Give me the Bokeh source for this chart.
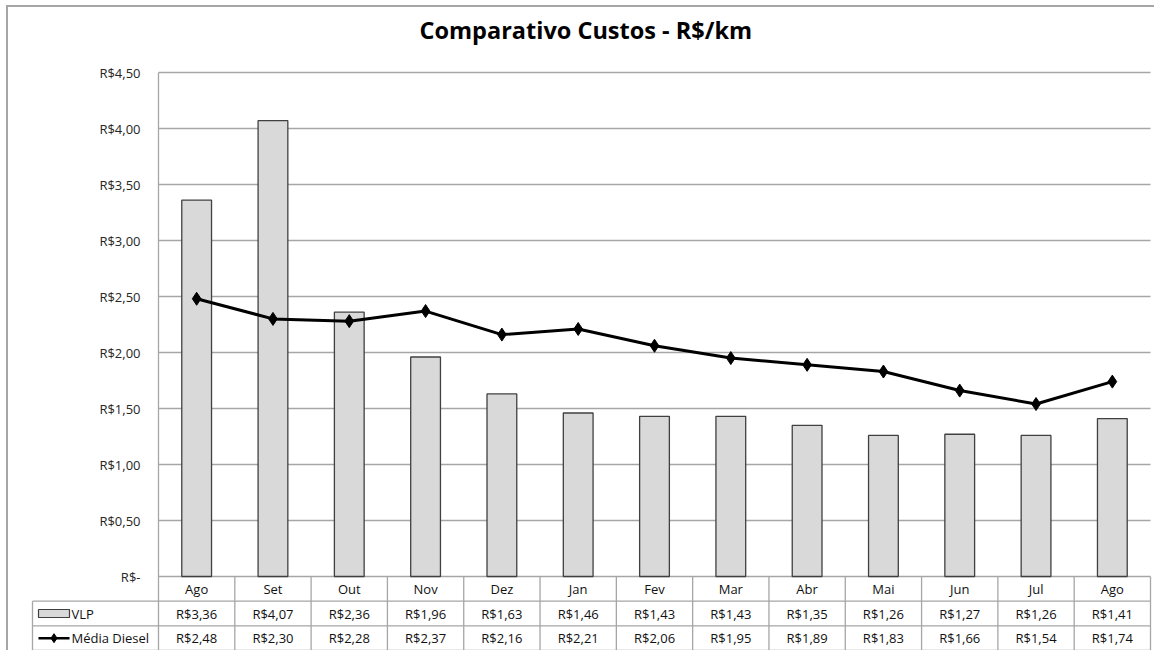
from bokeh.plotting import figure
from bokeh.models import FixedTicker, Range1d, Title
from bokeh.core.properties import value
from bokeh.embed import file_html
from bokeh.resources import INLINE

# ---------------- data ----------------
months = ["Ago", "Set", "Out", "Nov", "Dez", "Jan", "Fev", "Mar", "Abr", "Mai", "Jun", "Jul", "Ago"]
vlp = [3.36, 4.07, 2.36, 1.96, 1.63, 1.46, 1.43, 1.43, 1.35, 1.26, 1.27, 1.26, 1.41]
diesel = [2.48, 2.30, 2.28, 2.37, 2.16, 2.21, 2.06, 1.95, 1.89, 1.83, 1.66, 1.54, 1.74]
series_names = ["VLP", "Média Diesel"]
y_ticks = [0.0, 0.5, 1.0, 1.5, 2.0, 2.5, 3.0, 3.5, 4.0, 4.5]
title_text = "Comparativo Custos - R$/km"


def brl(v):
    return "R$-" if v == 0 else "R$" + f"{v:.2f}".replace(".", ",")


# ---------------- layout ----------------
PX_X = 992 / 13.0   # pixels per category
PX_Y = 112.0        # pixels per R$1
W, H = 1148, 645
n = len(months)
x_start = -128 / PX_X
x_end = n + 6 / PX_X
y_start = -76 / PX_Y
y_end = 4.5 + 2 / PX_Y
row_h = (74 / 3) / PX_Y
table_left = -126 / PX_X

FONT = "Open Sans"
TXT = "#111111"
GRID = "#a6a6a6"

p = figure(width=W, height=H, x_range=Range1d(x_start, x_end), y_range=Range1d(y_start, y_end),
           x_axis_location=None, y_axis_location="left", toolbar_location=None,
           output_backend="svg", min_border_left=22, min_border_right=0,
           min_border_top=63, min_border_bottom=0, title=None)
p.styles = {"margin-left": "6px", "margin-top": "5px",
            "border-left": "2px solid #a6a6a6", "border-top": "2px solid #a6a6a6"}
p.outline_line_color = None
p.background_fill_color = "white"
p.border_fill_color = "white"
p.xgrid.visible = False
p.ygrid.visible = False

title = Title(text=title_text, text_font=FONT, text_font_size="23.5px", text_font_style="bold",
              text_color="black", align="left", offset=389, standoff=0,
              padding=dict(top=0, right=0, bottom=25, left=0))
p.add_layout(title, "above")

ax = p.yaxis[0]
ax.ticker = FixedTicker(ticks=y_ticks)
ax.major_label_overrides = {t: brl(t) for t in y_ticks}
ax.axis_line_color = None
ax.major_tick_line_color = None
ax.minor_tick_line_color = None
ax.major_tick_out = 0
ax.major_tick_in = 0
ax.major_label_standoff = -110
ax.major_label_text_font = FONT
ax.major_label_text_font_size = "13px"
ax.major_label_text_color = "#262626"

centers = [i + 0.5 for i in range(n)]

# gridlines (plot area)
p.segment(x0=[0] * len(y_ticks), x1=[n] * len(y_ticks), y0=y_ticks, y1=y_ticks,
          line_color=GRID, line_width=1.3)

# bars
p.vbar(x=centers, top=vlp, bottom=0, width=0.39, fill_color="#d9d9d9",
       line_color="#404040", line_width=1.3)

# line
p.line(x=centers, y=diesel, line_color="black", line_width=3)
p.scatter(x=centers, y=diesel, marker="diamond", size=13, fill_color="black", line_color="black")

# ---------------- data table ----------------
rows_y = [-row_h * (k + 1) for k in range(3)]
p.segment(x0=[table_left] * 3, x1=[n] * 3, y0=rows_y, y1=rows_y,
          line_color=GRID, line_width=1.3)
p.segment(x0=[0], x1=[0], y0=[rows_y[-1]], y1=[4.5], line_color=GRID, line_width=1.3)
p.segment(x0=list(range(1, n + 1)), x1=list(range(1, n + 1)), y0=[0] * n, y1=[rows_y[-1]] * n,
          line_color=GRID, line_width=1.3)
p.segment(x0=[table_left], x1=[table_left], y0=[rows_y[0]], y1=[rows_y[-1]],
          line_color=GRID, line_width=1.3)

row_c = [-row_h * (k + 0.5) for k in range(3)]
p.text(x=centers, y=[row_c[0]] * n, text=months, text_align="center", text_baseline="middle",
       text_font=value(FONT), text_font_size="13px", text_color=TXT)
p.text(x=centers, y=[row_c[1]] * n, text=[brl(v) for v in vlp], text_align="center",
       text_baseline="middle", text_font=value(FONT), text_font_size="13px", text_color=TXT)
p.text(x=centers, y=[row_c[2]] * n, text=[brl(v) for v in diesel], text_align="center",
       text_baseline="middle", text_font=value(FONT), text_font_size="13px", text_color=TXT)

# legend keys in table's first column
sw_l = table_left + 6 / PX_X
sw_r = table_left + 37 / PX_X
sw_c = (sw_l + sw_r) / 2
p.rect(x=[sw_c], y=[row_c[1]], width=31, height=8, width_units="screen", height_units="screen",
       fill_color="#d9d9d9", line_color="#404040", line_width=1.2)
p.segment(x0=[sw_l], x1=[sw_r], y0=[row_c[2]], y1=[row_c[2]], line_color="black", line_width=2.5)
p.scatter(x=[sw_c], y=[row_c[2]], marker="diamond", size=9, fill_color="black", line_color="black")
p.text(x=[sw_r + 2 / PX_X] * 2, y=[row_c[1], row_c[2]], text=series_names, text_align="left",
       text_baseline="middle", text_font=value(FONT), text_font_size="13px", text_color=TXT)

open("out.html", "w").write(file_html(p, INLINE))
